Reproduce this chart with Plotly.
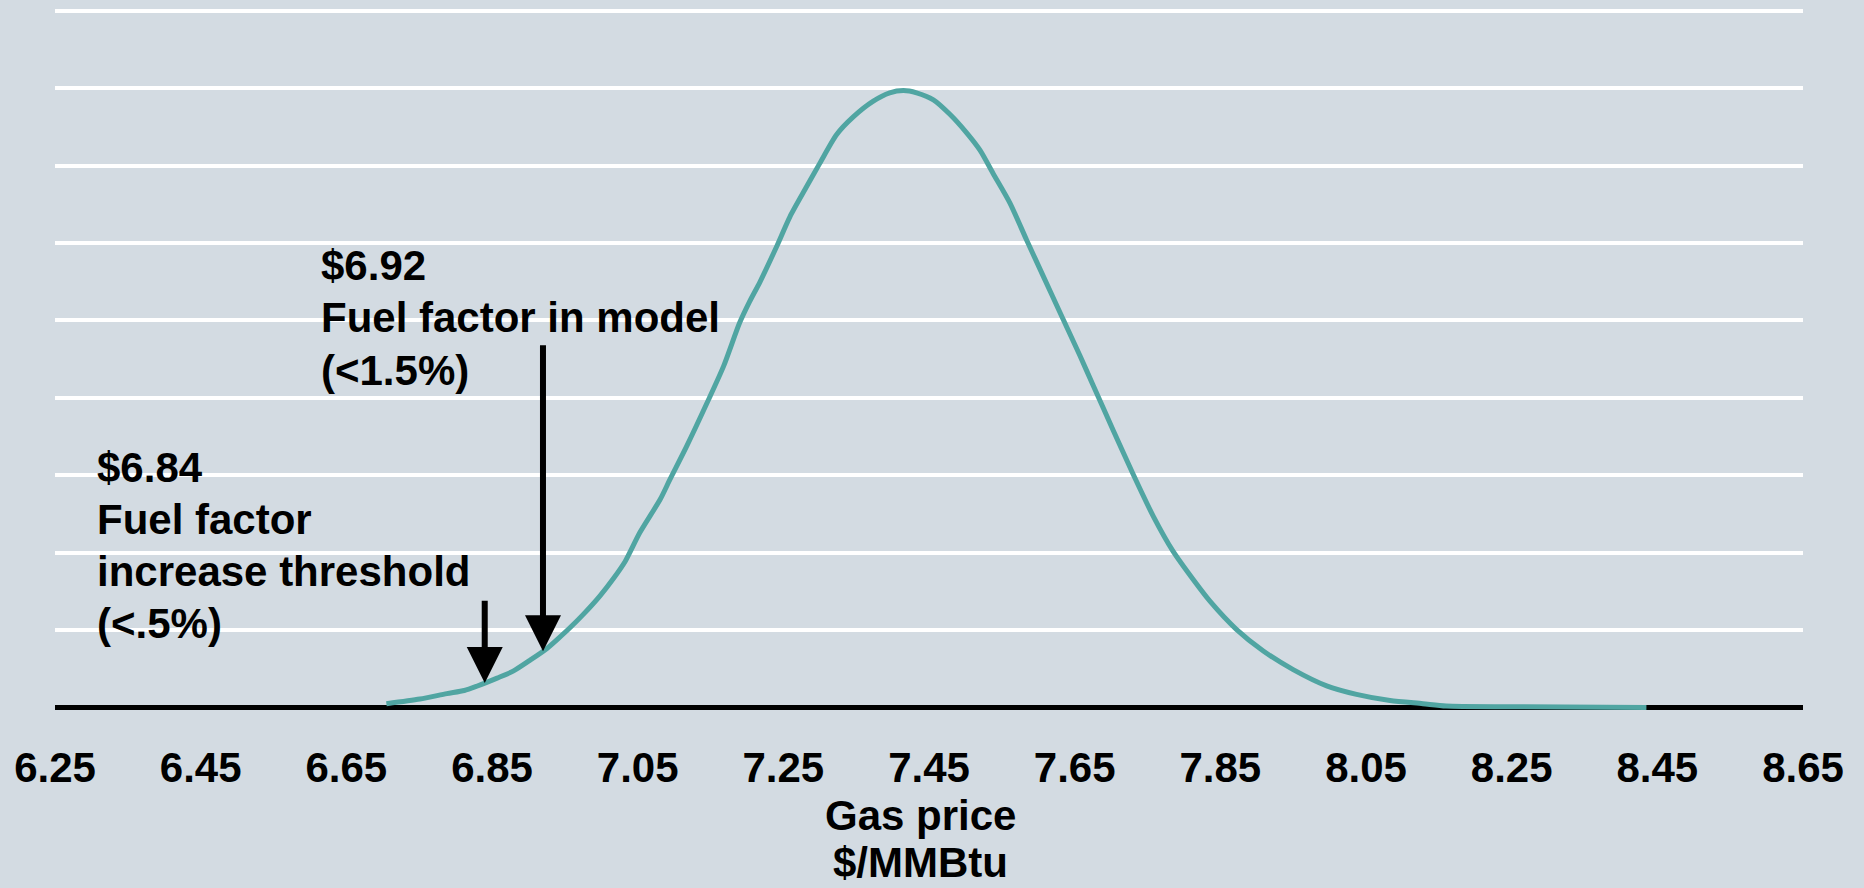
import numpy as np
import plotly.graph_objects as go

# Simulated gas price distribution ($/MMBtu vs. relative frequency)
gas_price = [6.705, 6.751, 6.788, 6.812, 6.829, 6.857, 6.879, 6.902, 6.925, 6.942,
             6.957, 6.975, 6.998, 7.017, 7.033, 7.053, 7.081, 7.094, 7.117, 7.145,
             7.168, 7.190, 7.204, 7.218, 7.241, 7.259, 7.282, 7.300, 7.323, 7.346,
             7.373, 7.396, 7.415, 7.433, 7.456, 7.479, 7.502, 7.520, 7.538, 7.561,
             7.584, 7.607, 7.630, 7.657, 7.675, 7.703, 7.730, 7.758, 7.785, 7.813,
             7.836, 7.872, 7.909, 7.950, 7.996, 8.037, 8.083, 8.128, 8.160, 8.250,
             8.435]
frequency = [0.05, 0.11, 0.18, 0.22, 0.275, 0.38, 0.47, 0.61, 0.76, 0.90,
             1.03, 1.20, 1.44, 1.67, 1.89, 2.26, 2.69, 2.94, 3.37, 3.93,
             4.41, 4.97, 5.25, 5.50, 5.96, 6.34, 6.73, 7.03, 7.40, 7.63,
             7.83, 7.94, 7.97, 7.94, 7.85, 7.66, 7.42, 7.20, 6.90, 6.52,
             6.04, 5.57, 5.10, 4.55, 4.17, 3.58, 3.02, 2.47, 2.02, 1.65,
             1.37, 1.01, 0.73, 0.49, 0.28, 0.17, 0.09, 0.05, 0.02, 0.01,
             0.0]

tick_values = [6.25, 6.45, 6.65, 6.85, 7.05, 7.25, 7.45, 7.65, 7.85, 8.05, 8.25, 8.45, 8.65]
grid_levels = list(range(0, 10))

# Price markers: value, label lines, arrow tail height
marker_prices = [6.84, 6.92]
marker_labels = [
    ["$6.84", "Fuel factor", "increase threshold", "(<.5%)"],
    ["$6.92", "Fuel factor in model", "(<1.5%)"],
]
marker_tail_levels = [1.4, 4.7]

BG = "#D3DBE2"
TEAL = "#50A5A2"
FONT = "Liberation Sans, Arial, sans-serif"

W, H = 1864, 888
M_L, M_R, M_T, M_B = 55, 61, 7, 165
PLOT_W = W - M_L - M_R
PLOT_H = H - M_T - M_B


def paper_x(px):
    return (px - M_L) / PLOT_W


def paper_y(py):
    return (H - M_B - py) / PLOT_H


fig = go.Figure()
fig.add_trace(go.Scatter(
    x=gas_price, y=frequency, mode="lines",
    line=dict(color=TEAL, width=5, shape="spline", smoothing=0.7),
    hoverinfo="skip", showlegend=False,
))

annotations = []

# Arrows pointing at the curve for each marked price
for price, tail in zip(marker_prices, marker_tail_levels):
    tip = float(np.interp(price, gas_price, frequency))
    annotations.append(dict(
        x=price, y=tip, xref="x", yref="y",
        ax=price, ay=tail, axref="x", ayref="y",
        text="", showarrow=True, arrowhead=2, arrowsize=1.2,
        arrowwidth=6, arrowcolor="black", standoff=0,
    ))

# Label text blocks (left edge px, first line centre px, line step px)
label_blocks = [(95, 468, 51.7), (319, 265, 52.5)]
for lines, (left_px, top_px, step) in zip(marker_labels, label_blocks):
    for i, line in enumerate(lines):
        annotations.append(dict(
            x=paper_x(left_px), y=paper_y(top_px + i * step),
            xref="paper", yref="paper", xanchor="left", yanchor="middle",
            text=line, showarrow=False,
            font=dict(family=FONT, size=42, color="black", weight="bold"),
        ))

# Axis title, two lines
for line, cy in [("Gas price", 815), ("$/MMBtu", 862)]:
    annotations.append(dict(
        x=paper_x(920), y=paper_y(cy), xref="paper", yref="paper",
        xanchor="center", yanchor="middle", text=line, showarrow=False,
        font=dict(family=FONT, size=42, color="black", weight="bold"),
    ))

fig.update_layout(
    width=W, height=H, autosize=False,
    margin=dict(l=M_L, r=M_R, t=M_T, b=M_B, pad=0),
    paper_bgcolor=BG, plot_bgcolor=BG,
    annotations=annotations,
    xaxis=dict(
        range=[6.25, 8.65], tickvals=tick_values,
        ticktext=[f"{v:.2f}" for v in tick_values],
        showgrid=False, zeroline=False, showline=False,
        ticks="outside", ticklen=8, tickcolor="rgba(0,0,0,0)",
        tickfont=dict(family=FONT, size=42, color="black", weight="bold"),
        fixedrange=True,
    ),
    yaxis=dict(
        range=[-0.2, 9.05], tickvals=grid_levels, showticklabels=False,
        showgrid=True, gridcolor="white", gridwidth=3.5,
        zeroline=True, zerolinecolor="black", zerolinewidth=5,
        showline=False, ticks="", fixedrange=True,
    ),
)

fig.write_html("out.html", config={"displayModeBar": False})
